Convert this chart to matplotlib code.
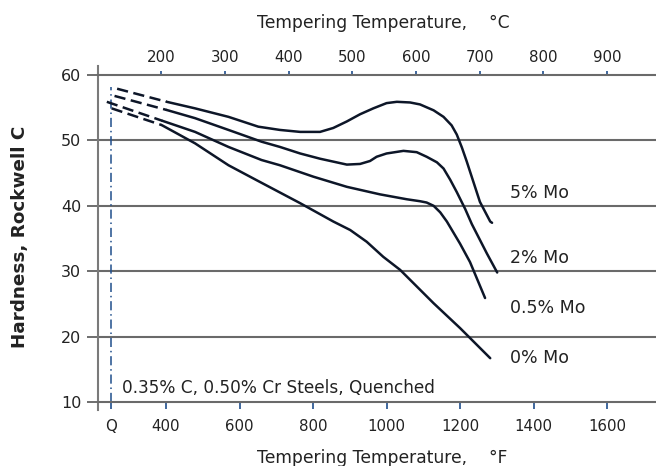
import matplotlib
matplotlib.use('Agg')
import matplotlib.pyplot as plt

plt.rcParams['font.family'] = ['DejaVu Sans']

# Data (deg F, Rockwell C)
mo5_dash_f = [267, 402]
mo5_dash_h = [57.9, 55.9]
mo5_f = [402, 479, 570, 651, 710, 765, 819, 855, 892, 928, 964, 1000, 1028, 1064, 1091,
         1128, 1155, 1177, 1191, 1205, 1218, 1236, 1254, 1282, 1287]
mo5_h = [55.9, 54.9, 53.6, 52.1, 51.6, 51.3, 51.3, 51.9, 52.9, 54.0, 54.9, 55.7, 55.9, 55.8, 55.5,
         54.6, 53.6, 52.3, 50.9, 48.9, 46.8, 43.7, 40.6, 37.6, 37.4]

mo2_dash_f = [260, 402]
mo2_dash_h = [56.8, 54.65]
mo2_f = [402, 479, 570, 660, 710, 765, 819, 892, 928, 955, 973, 1000, 1046, 1082, 1109,
         1137, 1155, 1173, 1191, 1214, 1232, 1273, 1301]
mo2_h = [54.65, 53.4, 51.6, 49.8, 49.0, 48.0, 47.2, 46.3, 46.4, 46.85, 47.5, 48.0, 48.4, 48.2, 47.5,
         46.65, 45.7, 44.0, 42.1, 39.5, 37.2, 32.7, 29.8]

mo05_dash_f = [239, 390]
mo05_dash_h = [55.9, 53.0]
mo05_f = [390, 479, 570, 660, 710, 801, 892, 982, 1055, 1091, 1109, 1128, 1146, 1164, 1200,
          1227, 1268]
mo05_h = [53.0, 51.3, 49.0, 47.0, 46.2, 44.45, 42.9, 41.75, 41.0, 40.7, 40.5, 40.0, 39.0, 37.6, 34.2,
          31.4, 25.9]

mo0_dash_f = [252, 388]
mo0_dash_h = [54.9, 52.35]
mo0_f = [388, 479, 570, 647, 765, 855, 901, 946, 991, 1037, 1128, 1200, 1282]
mo0_h = [52.35, 49.55, 46.2, 43.9, 40.4, 37.6, 36.3, 34.5, 32.2, 30.2, 25.1, 21.3, 16.7]

curve_labels = ['5% Mo', '2% Mo', '0.5% Mo', '0% Mo']
label_h = [41.15, 31.2, 23.56, 15.92]
label_f = 1336

quench_f = 250
bottom_ticks = [quench_f, 400, 600, 800, 1000, 1200, 1400, 1600]
bottom_labels = ['Q', '400', '600', '800', '1000', '1200', '1400', '1600']
top_ticks = [200, 300, 400, 500, 600, 700, 800, 900]
y_ticks = [10, 20, 30, 40, 50, 60]

line_col = '#0d1628'
grid_col = '#6a6a6a'
tick_blue = '#1f4e8c'
text_col = '#222222'

fig = plt.figure(figsize=(6.56, 4.66), dpi=100)
ax = fig.add_axes([98 / 656, 64 / 466, 558 / 656, 327 / 466])

ax.set_xlim(215, 1733)
ax.set_ylim(10, 60)

# grid lines
for y in y_ticks[1:-1]:
    ax.axhline(y, color=grid_col, lw=1.5, zorder=1)

for df, dh, sf, sh in [(mo5_dash_f, mo5_dash_h, mo5_f, mo5_h),
                       (mo2_dash_f, mo2_dash_h, mo2_f, mo2_h),
                       (mo05_dash_f, mo05_dash_h, mo05_f, mo05_h),
                       (mo0_dash_f, mo0_dash_h, mo0_f, mo0_h)]:
    ax.plot(df, dh, color=line_col, lw=1.8, linestyle=(0, (4.5, 2.2)), zorder=3)
    ax.plot(sf, sh, color=line_col, lw=1.8, zorder=3,
            solid_capstyle='round', solid_joinstyle='round')

for lab, h in zip(curve_labels, label_h):
    ax.text(label_f, h, lab, fontsize=12.5, color=text_col, va='baseline', ha='left')

# quenched marker
ax.plot([quench_f, quench_f], [10, 58.2], color=tick_blue, lw=1.1,
        linestyle=(0, (6, 2.5, 1, 2.5)), zorder=2)
ax.text(280, 11.35, '0.35% C, 0.50% Cr Steels, Quenched', fontsize=12.2,
        color=text_col, va='baseline', ha='left')

# spines
ax.spines['right'].set_visible(False)
for s in ['top', 'bottom']:
    ax.spines[s].set_color(grid_col)
    ax.spines[s].set_linewidth(1.5)
ax.spines['left'].set_color('#7a7a7a')
ax.spines['left'].set_linewidth(1.5)
ax.spines['left'].set_bounds(8.8, 61.3)

ax.set_yticks(y_ticks)
ax.tick_params(axis='y', direction='out', length=8, width=1.2, color='#555555',
               labelsize=11.5, pad=4, labelcolor=text_col)
ax.set_xticks(bottom_ticks)
ax.set_xticklabels(bottom_labels)
ax.tick_params(axis='x', direction='out', length=5, width=1.2, color=tick_blue,
               labelsize=10.8, pad=7, labelcolor=text_col)


def f2c(f):
    return (f - 41.3) / 1.731


def c2f(c):
    return c * 1.731 + 41.3


top = ax.secondary_xaxis('top', functions=(f2c, c2f))
top.set_xticks(top_ticks)
top.spines['top'].set_visible(False)
top.tick_params(direction='out', length=3, width=1.2, color=tick_blue,
                labelsize=10.8, pad=4, labelcolor=text_col)

fig.text(257 / 656, 1 - 27.7 / 466, 'Tempering Temperature,    °C', fontsize=12.3,
         ha='left', va='baseline', color=text_col)
fig.text(257 / 656, 1 - 463 / 466, 'Tempering Temperature,    °F', fontsize=12.3,
         ha='left', va='baseline', color=text_col)
fig.text(20 / 656, 1 - 237 / 466, 'Hardness, Rockwell C', fontsize=13.2,
         fontweight='bold', rotation=90, ha='center', va='center', color=text_col)

fig.savefig('out.png', dpi=100)
